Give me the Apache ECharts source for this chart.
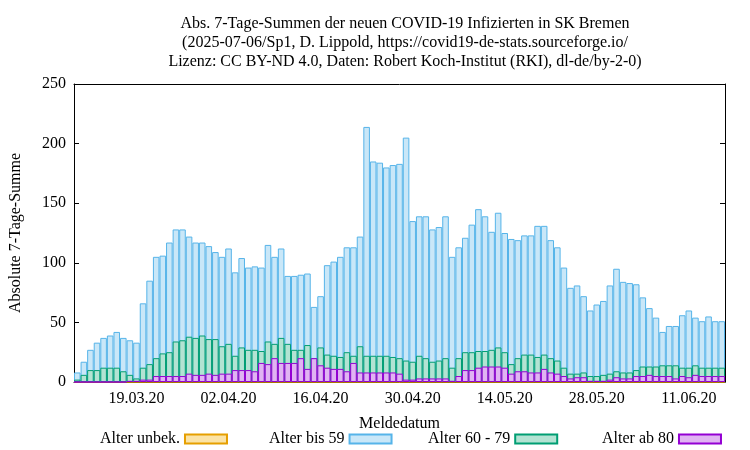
<!DOCTYPE html>
<html lang="de">
<head>
<meta charset="UTF-8">
<script src="https://cdn.jsdelivr.net/npm/echarts/dist/echarts.min.js"></script>
<style>
  body { margin: 0; background: #fff; }
  #chart { width: 750px; height: 450px; }
</style>
</head>
<body>
<div id="chart"></div>
<script>
// Werte
const startDate = new Date(2020, 2, 10);
const under59 = [8,17,27,33,37,39,42,37,35,33,66,85,105,106,117,128,128,122,117,117,114,109,105,112,92,104,96,97,96,115,105,112,89,89,90,91,63,72,98,101,105,113,113,122,214,185,184,180,182,183,205,
  135,139,139,128,130,139,105,113,121,132,145,139,126,142,125,120,119,123,123,131,131,119,113,96,79,81,72,60,65,68,81,95,84,83,82,71,62,54,42,47,47,56,60,54,51,55,51,51];
const from60 = [2,6,10,10,12,12,12,9,6,3,12,15,20,24,25,34,35,38,37,39,36,36,30,32,22,29,27,27,26,34,32,37,32,27,27,31,20,29,23,22,21,25,22,30,22,22,22,22,
  21,20,18,17,22,20,17,18,20,12,20,25,25,26,26,27,29,25,15,20,23,23,21,23,20,18,12,7,7,8,5,5,6,7,9,8,8,10,13,13,13,14,14,14,12,12,14,12,12,12,12];
const from80 = [0,0,0,0,0,0,0,0,1,1,2,2,5,5,5,5,5,7,6,6,7,6,7,7,10,10,10,9,16,15,20,16,16,16,20,11,20,14,12,11,11,9,16,8,8,8,8,8,
  8,7,2,2,3,3,3,3,3,1,5,10,10,12,13,13,13,12,7,9,9,8,8,11,8,7,5,3,4,4,1,1,1,2,4,3,3,5,5,6,5,5,5,3,5,4,6,5,5,5,5];
const unknown = under59.map(() => 0);

const dates = under59.map((_, i) => {
  const d = new Date(startDate.getTime() + i * 86400000);
  return String(d.getDate()).padStart(2, '0') + '.' + String(d.getMonth() + 1).padStart(2, '0') + '.20';
});

const font = 'Liberation Serif';
const fs = 16;
const chart = echarts.init(document.getElementById('chart'));

function legendAt(name, left) {
  return {
    data: [{ name: name, icon: 'rect' }], left: left, top: 426, align: 'right', itemWidth: 42, itemHeight: 9, itemGap: 0,
    textStyle: { fontFamily: font, fontSize: fs, color: '#000' }, selectedMode: false
  };
}

function barSeries(name, data, fill, border, z) {
  return {
    name: name, type: 'bar', data: data, barGap: '-100%', barCategoryGap: '0%', z: z,
    itemStyle: { color: fill, borderColor: border, borderWidth: 1 }, animation: false
  };
}

const tickEvery7 = (i) => (i - 9) % 7 === 0 || i === 2;
const labelEvery14 = (i) => i >= 9 && (i - 9) % 14 === 0;

chart.setOption({
  title: {
    text: 'Abs. 7-Tage-Summen der neuen COVID-19 Infizierten in SK Bremen\n(2025-07-06/Sp1, D. Lippold, https://covid19-de-stats.sourceforge.io/\nLizenz: CC BY-ND 4.0, Daten: Robert Koch-Institut (RKI), dl-de/by-2-0)',
    left: 400, top: 9, textAlign: 'center',
    textStyle: { fontFamily: font, fontSize: fs, fontWeight: 'normal', color: '#000', lineHeight: 19 }
  },
  legend: [
    legendAt('Alter unbek.', 95),
    legendAt('Alter bis 59', 264),
    legendAt('Alter 60 - 79', 423),
    legendAt('Alter ab 80', 597)
  ],
  grid: { left: 72, right: 25, top: 84, bottom: 68 },
  xAxis: [{
    type: 'category', data: dates, boundaryGap: true,
    name: 'Meldedatum', nameLocation: 'middle', nameGap: 34,
    nameTextStyle: { fontFamily: font, fontSize: fs, color: '#000' },
    axisLine: { onZero: false, lineStyle: { color: '#000' } },
    axisTick: { inside: true, alignWithLabel: true, interval: tickEvery7, length: 5, lineStyle: { color: '#000' } },
    axisLabel: { interval: labelEvery14, fontFamily: font, fontSize: fs, color: '#000', margin: 9 }
  }, {
    type: 'category', data: dates, position: 'top', boundaryGap: true,
    axisLine: { show: true, onZero: false, lineStyle: { color: '#000' } },
    axisTick: { inside: true, alignWithLabel: true, interval: tickEvery7, length: 5, lineStyle: { color: '#000' } },
    axisLabel: { show: false }
  }],
  yAxis: [{
    type: 'value', min: 0, max: 250, interval: 50,
    name: 'Absolute 7-Tage-Summe', nameLocation: 'middle', nameGap: 50,
    nameTextStyle: { fontFamily: font, fontSize: fs, color: '#000' },
    axisLine: { show: true, lineStyle: { color: '#000' } },
    axisTick: { show: true, inside: true, length: 5, lineStyle: { color: '#000' } },
    splitLine: { show: false },
    axisLabel: { fontFamily: font, fontSize: fs, color: '#000', margin: 8 }
  }, {
    type: 'value', min: 0, max: 250, interval: 50, position: 'right',
    axisLine: { show: true, lineStyle: { color: '#000' } },
    axisTick: { show: true, inside: true, length: 5, lineStyle: { color: '#000' } },
    splitLine: { show: false }, axisLabel: { show: false }
  }],
  series: [
    barSeries('Alter unbek.', unknown, '#fbe3a6', '#e69f00', 1),
    barSeries('Alter bis 59', under59, '#c9e7f8', '#56b4e9', 2),
    barSeries('Alter 60 - 79', from60, '#b3e3d3', '#009e73', 3),
    barSeries('Alter ab 80', from80, '#e0b4f2', '#9400d3', 4)
  ]
});
</script>
</body>
</html>
